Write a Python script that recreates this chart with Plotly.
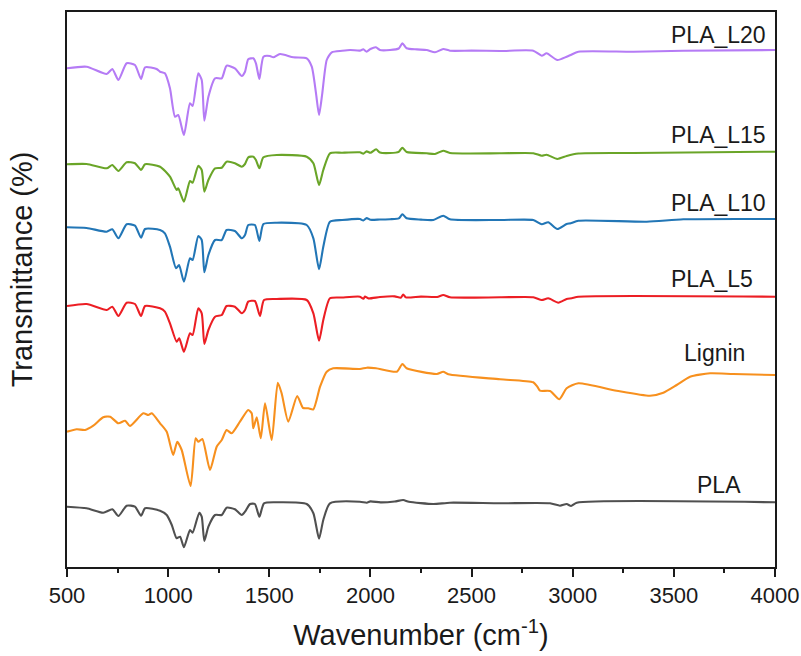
import plotly.graph_objects as go

# FTIR spectra (wavenumber in cm-1, stacked transmittance in arbitrary units)
pla_l20 = [(500, 498.7), (597, 500.3), (696, 493), (724, 498), (754, 487), (795, 503.7), (836, 502),
           (866, 488), (886, 499.7), (943, 498), (960, 495.3), (984, 493.7), (1009, 478.7), (1034, 450.3),
           (1050, 452), (1078, 432), (1108, 463.7), (1121, 461), (1149, 493.7), (1166, 487), (1179, 446.3),
           (1199, 470.3), (1232, 488.7), (1265, 488.7), (1289, 501.3), (1330, 498.7), (1364, 491),
           (1380, 495.3), (1396, 507.7), (1421, 508.7), (1434, 503.7), (1451, 488), (1471, 510.3),
           (1503, 511), (1520, 509.7), (1553, 513), (1619, 509.7), (1685, 508.7), (1710, 500.3),
           (1731, 473.7), (1746, 452), (1762, 473.7), (1784, 507), (1809, 514.7), (1860, 516.2),
           (1900, 517), (1948, 516.4), (1965, 517.7), (1981, 515.3), (2000, 518), (2027, 519.7),
           (2047, 517), (2097, 517), (2140, 518.5), (2158, 523.7), (2179, 518.7), (2230, 517.6),
           (2278, 517), (2319, 514.7), (2360, 518), (2393, 516.3), (2500, 516.4), (2641, 516),
           (2805, 516.3), (2847, 511.3), (2871, 513.7), (2924, 507), (2970, 510.3), (2990, 512),
           (3028, 515.3), (3300, 515.3), (3547, 516.3), (4000, 517)]

pla_l15 = [(500, 402.7), (597, 403), (696, 398.7), (724, 402), (754, 396), (795, 404.7), (836, 403.7),
           (866, 397), (886, 402.7), (960, 400.3), (1009, 390.3), (1042, 377), (1050, 378.7), (1078, 365.3),
           (1108, 386), (1121, 384.3), (1149, 401.3), (1166, 397), (1179, 375.3), (1199, 387), (1232, 398.7),
           (1265, 399.3), (1289, 405.3), (1330, 403.7), (1364, 400.3), (1380, 403), (1396, 409.7),
           (1421, 410.3), (1434, 407), (1451, 398.7), (1471, 409.7), (1537, 412), (1685, 410.3),
           (1718, 403.7), (1746, 382), (1767, 397), (1800, 413.7), (1860, 414.3), (1948, 414.7),
           (1965, 413.4), (1981, 415.6), (2000, 414.2), (2028, 417.7), (2047, 414.5), (2097, 414),
           (2140, 415.2), (2158, 419.3), (2179, 415), (2278, 413.7), (2319, 413), (2360, 416.3),
           (2393, 414), (2641, 413.7), (2805, 413.8), (2847, 411.3), (2871, 412.3), (2924, 408),
           (2970, 411), (3028, 413.5), (3300, 414), (4000, 415.3)]

pla_l10 = [(500, 339.7), (597, 339), (696, 335.3), (724, 337.7), (754, 328.7), (795, 342.7), (836, 341.3),
           (866, 329.3), (886, 338), (960, 337), (984, 333.7), (1009, 320.3), (1039, 298.7), (1054, 302),
           (1078, 285.3), (1108, 308.7), (1121, 307), (1149, 331), (1166, 327), (1179, 294.7), (1199, 312),
           (1232, 327), (1265, 327), (1289, 337), (1330, 336), (1364, 328.7), (1380, 332), (1396, 342),
           (1429, 342), (1451, 326), (1471, 343), (1537, 344.3), (1685, 342), (1718, 328.7), (1746, 297.7),
           (1767, 320.3), (1800, 345.3), (1860, 347), (1948, 348), (1965, 346.5), (1981, 348.9),
           (2000, 347.2), (2047, 347.5), (2097, 347.8), (2140, 348.6), (2158, 352.7), (2179, 348.7),
           (2250, 347.4), (2311, 347), (2360, 351.3), (2393, 347.7), (2641, 347), (2805, 347),
           (2847, 342.7), (2879, 344.7), (2924, 338), (2970, 343), (2990, 343.7), (3028, 346.3),
           (3366, 345.3), (3547, 347.7), (4000, 348)]

pla_l5 = [(500, 261), (597, 263), (696, 257), (724, 260.3), (754, 251), (795, 264.3), (836, 263),
          (866, 251), (886, 261), (960, 258.7), (984, 255.3), (1009, 243.7), (1042, 225.3), (1055, 228.7),
          (1078, 215.3), (1108, 233.7), (1121, 232), (1149, 258.7), (1166, 253.7), (1179, 223), (1199, 237),
          (1232, 250.3), (1265, 252), (1289, 261), (1330, 260.3), (1364, 253.7), (1380, 257), (1396, 265.3),
          (1429, 266), (1454, 251), (1474, 267), (1537, 268), (1685, 267), (1718, 253.7), (1746, 226.3),
          (1767, 247), (1800, 268.7), (1860, 269.5), (1948, 270.3), (1965, 268.2), (1973, 270.4),
          (1990, 268.6), (2047, 270), (2120, 270.6), (2150, 269.2), (2162, 272.5), (2175, 269.6),
          (2250, 270.4), (2330, 270), (2360, 272), (2393, 269.7), (2641, 269.7), (2805, 269.8),
          (2847, 267), (2879, 268.7), (2929, 264.3), (2970, 268), (2995, 268.7), (3028, 270.3), (4000, 270.3)]

lignin = [(500, 135.3), (548, 137.7), (589, 137), (630, 141.3), (679, 149.7), (713, 150.3), (754, 143.7),
          (787, 146.3), (811, 141), (877, 153.7), (902, 152), (919, 153.7), (960, 143.7), (993, 135.3),
          (1025, 112), (1045, 125.3), (1067, 117), (1111, 81), (1136, 128.7), (1149, 125.3), (1169, 128),
          (1207, 97), (1240, 120.3), (1265, 127), (1289, 137), (1314, 133.7), (1355, 145.3), (1396, 157),
          (1413, 153.7), (1421, 138.7), (1438, 149.7), (1458, 128.7), (1479, 163.7), (1512, 127),
          (1542, 184.3), (1561, 173.7), (1594, 145.3), (1638, 171), (1667, 159), (1693, 158.7),
          (1718, 157.7), (1751, 180.3), (1784, 195.3), (1816, 198.7), (1948, 198), (1982, 199.3),
          (2028, 198.7), (2130, 195.3), (2158, 203), (2179, 198.7), (2328, 193), (2360, 195.3),
          (2385, 192.7), (2641, 187.7), (2805, 184.7), (2825, 180.3), (2838, 176.3), (2888, 176),
          (2934, 167.7), (2970, 178.7), (3028, 183.7), (3217, 176.3), (3382, 171.3), (3448, 174.3),
          (3514, 182), (3580, 190.3), (3679, 193.7), (3794, 193), (4000, 192)]

pla = [(500, 60.3), (597, 58.7), (679, 54.3), (724, 57.7), (754, 51), (795, 61.3), (836, 60.3),
       (866, 51.3), (886, 58.7), (960, 56.3), (993, 52), (1018, 42), (1042, 28.7), (1059, 30.3),
       (1078, 19.7), (1108, 37), (1121, 34.3), (1154, 54.3), (1166, 50.3), (1179, 26), (1199, 40.3),
       (1232, 52), (1265, 52), (1289, 59.3), (1330, 57.7), (1364, 52), (1380, 55.3), (1405, 63),
       (1429, 63), (1451, 50.3), (1474, 63.7), (1537, 64.7), (1685, 63), (1718, 53.7), (1746, 28.3),
       (1767, 47), (1800, 63.7), (1948, 65.3), (1982, 64.3), (2000, 65.6), (2050, 64.6), (2120, 65.5),
       (2162, 67), (2190, 65.2), (2311, 63), (2393, 64.3), (2641, 63.7), (2888, 63.7), (2937, 61.3),
       (2970, 63), (2992, 61), (3020, 64.3), (4000, 64.7)]

series_names = ["PLA_L20", "PLA_L15", "PLA_L10", "PLA_L5", "Lignin", "PLA"]
series_data = [pla_l20, pla_l15, pla_l10, pla_l5, lignin, pla]
series_colors = ["#b57bf5", "#6aa528", "#2276b6", "#ec1e24", "#f7901e", "#505050"]

# curve labels: (wavenumber, level)
label_pos = [(3723, 532.3), (3723, 432.3), (3723, 363.7), (3691, 288.3), (3701, 213.7), (3722, 82.3)]

x_ticks = [500, 1000, 1500, 2000, 2500, 3000, 3500, 4000]

FONT = "Liberation Sans, Arial, sans-serif"

fig = go.Figure()
for name, data, color in zip(series_names, series_data, series_colors):
    fig.add_trace(go.Scatter(
        x=[p[0] for p in data], y=[p[1] for p in data], mode="lines", name=name,
        line=dict(color=color, width=2.1, shape="spline", smoothing=0.6),
        showlegend=False,
    ))

for name, (lx, ly) in zip(series_names, label_pos):
    fig.add_annotation(x=lx, y=ly, text=name, showarrow=False, xanchor="center", yanchor="middle",
                       font=dict(family=FONT, size=23, color="#1a1a1a"))

fig.add_annotation(xref="paper", yref="paper", x=-0.063, y=0.537, text="Transmittance (%)",
                   textangle=-90, showarrow=False, xanchor="center", yanchor="middle",
                   font=dict(family=FONT, size=29, color="#1a1a1a"))

fig.update_xaxes(
    range=[500, 4000], tickvals=x_ticks, ticktext=[str(t) for t in x_ticks],
    ticks="outside", ticklen=8, tickwidth=1.5, tickcolor="#1a1a1a",
    minor=dict(tickvals=[750, 1250, 1750, 2250, 2750, 3250, 3750], ticks="outside", ticklen=4,
               tickwidth=1.5, tickcolor="#1a1a1a"),
    showline=True, linecolor="#1a1a1a", linewidth=1.5, mirror=True, showgrid=False, zeroline=False,
    automargin=False,
    tickfont=dict(family=FONT, size=22, color="#1a1a1a"),
    title=dict(text="Wavenumber (cm<sup>-1</sup>)", font=dict(family=FONT, size=29, color="#1a1a1a"),
               standoff=18),
)
fig.update_yaxes(
    range=[0, 555], showticklabels=False, ticks="", showline=True, linecolor="#1a1a1a",
    linewidth=1.5, mirror=True, showgrid=False, zeroline=False, automargin=False,
)
fig.update_layout(
    width=801, height=656, margin=dict(l=67, r=26, t=12, b=89),
    plot_bgcolor="white", paper_bgcolor="white",
)
fig.write_html("out.html")
